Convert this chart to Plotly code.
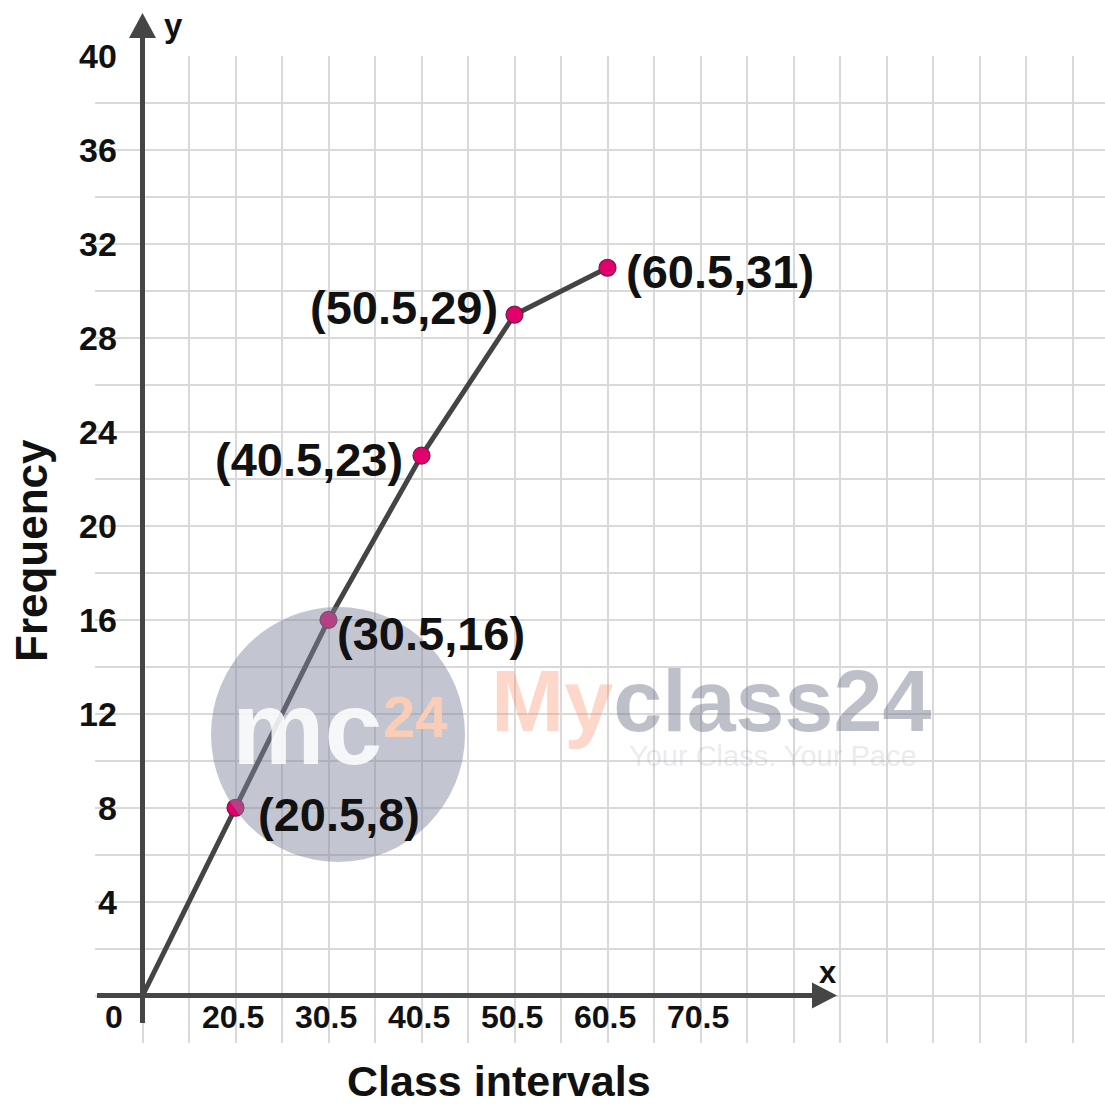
import plotly.graph_objects as go

# ---------------- data ----------------
class_marks = [20.5, 30.5, 40.5, 50.5, 60.5]
frequency = [8, 16, 23, 29, 31]
point_labels = ["(20.5,8)", "(30.5,16)", "(40.5,23)", "(50.5,29)", "(60.5,31)"]
x_tick_values = [20.5, 30.5, 40.5, 50.5, 60.5, 70.5]
x_tick_labels = ["20.5", "30.5", "40.5", "50.5", "60.5", "70.5"]
y_tick_values = [4, 8, 12, 16, 20, 24, 28, 32, 36, 40]
y_tick_labels = ["4", "8", "12", "16", "20", "24", "28", "32", "36", "40"]
origin_label = "0"
X_ORIGIN = 10.5  # axis origin (lower boundary) in class-interval units
Y_ORIGIN = 0

# ---------------- geometry / style ----------------
W, H = 1105, 1107
ML, MR, MT, MB = 95, 0, 56, 64
PW, PH = W - ML - MR, H - MT - MB
X_PX_PER_UNIT = 9.3
ORIGIN_PX = 142.5
XR = [X_ORIGIN - (ORIGIN_PX - ML) / X_PX_PER_UNIT, X_ORIGIN + (W - ORIGIN_PX) / X_PX_PER_UNIT]
YR = [-2.02, 40.02]

FONT = "Liberation Sans, Arial, Helvetica, sans-serif"
AXIS_COLOR = "#454545"
LINE_COLOR = "#444444"
MARKER_COLOR = "#e2006c"

def px_x(v):
    return ML + (v - XR[0]) / (XR[1] - XR[0]) * PW

def px_y(v):
    return H - MB - (v - YR[0]) / (YR[1] - YR[0]) * PH

def pap_x(px):
    return (px - ML) / PW

def pap_y(py):
    return (H - MB - py) / PH

fig = go.Figure()

# polygon line from origin through the class marks
fig.add_trace(go.Scatter(
    x=[X_ORIGIN] + class_marks, y=[Y_ORIGIN] + frequency,
    mode="lines", line=dict(color=LINE_COLOR, width=5),
    hoverinfo="skip", showlegend=False))
fig.add_trace(go.Scatter(
    x=class_marks, y=frequency, mode="markers",
    marker=dict(size=17, color=MARKER_COLOR, line=dict(color="#6b1f45", width=1.2)),
    showlegend=False))

shapes = []
ox, oy = px_x(X_ORIGIN), px_y(Y_ORIGIN)
# x axis with arrow
shapes.append(dict(type="line", xref="paper", yref="paper",
                   x0=pap_x(97), x1=pap_x(815), y0=pap_y(oy), y1=pap_y(oy),
                   line=dict(color=AXIS_COLOR, width=5), layer="above"))
shapes.append(dict(type="path", xref="paper", yref="paper",
                   path=f"M {pap_x(812)},{pap_y(oy-13)} L {pap_x(837)},{pap_y(oy)} L {pap_x(812)},{pap_y(oy+13)} Z",
                   fillcolor=AXIS_COLOR, line=dict(width=0), layer="above"))
# y axis with arrow
shapes.append(dict(type="line", xref="paper", yref="paper",
                   x0=pap_x(ox), x1=pap_x(ox), y0=pap_y(1023), y1=pap_y(35),
                   line=dict(color=AXIS_COLOR, width=5), layer="above"))
shapes.append(dict(type="path", xref="paper", yref="paper",
                   path=f"M {pap_x(ox-13.5)},{pap_y(38)} L {pap_x(ox)},{pap_y(13)} L {pap_x(ox+13.5)},{pap_y(38)} Z",
                   fillcolor=AXIS_COLOR, line=dict(width=0), layer="above"))
# watermark circle
shapes.append(dict(type="circle", xref="paper", yref="paper",
                   x0=pap_x(211), x1=pap_x(465), y0=pap_y(862), y1=pap_y(607),
                   fillcolor="rgba(130,136,158,0.48)", line=dict(width=0), layer="above"))

def pann(px, py, text, size, color="#111111", weight="bold", **kw):
    d = dict(xref="paper", yref="paper", x=pap_x(px), y=pap_y(py), text=text,
             showarrow=False, xanchor="center", yanchor="middle",
             font=dict(family=FONT, size=size, color=color, weight=weight))
    d.update(kw)
    return d

ann = []
# watermark text
ann.append(pann(307, 728, "mc", 104, color="rgba(255,255,255,0.85)"))
ann.append(pann(415, 716, "24", 58, color="rgba(253,205,180,0.95)"))
ann.append(pann(711, 700,
                '<span style="color:rgba(250,140,100,0.35)">My</span>'
                '<span style="color:rgba(110,115,135,0.45)">class24</span>', 88, color="#888888"))
ann.append(pann(773, 756, "Your Class. Your Pace", 29, color="rgba(150,150,165,0.2)", weight="normal"))

# point labels
label_style = [
    dict(xanchor="left", xshift=20, yshift=-7),
    dict(xanchor="left", xshift=6, yshift=-14),
    dict(xanchor="right", xshift=-17, yshift=-4),
    dict(xanchor="right", xshift=-15, yshift=7),
    dict(xanchor="left", xshift=16, yshift=-4),
]
for xv, yv, t, st in zip(class_marks, frequency, point_labels, label_style):
    ann.append(dict(xref="x", yref="y", x=xv, y=yv, text=t, showarrow=False,
                    xanchor=st["xanchor"], yanchor="middle", xshift=st["xshift"], yshift=st["yshift"],
                    font=dict(family=FONT, size=47, color="#111111", weight="bold")))

# y tick labels
for v, t in zip(y_tick_values, y_tick_labels):
    ann.append(dict(xref="paper", yref="y", x=pap_x(119), y=v, text=t, showarrow=False,
                    xanchor="right", yanchor="middle",
                    font=dict(family=FONT, size=34, color="#111111", weight="bold")))
# x tick labels
for v, t in zip(x_tick_values, x_tick_labels):
    ann.append(dict(xref="x", yref="paper", x=v, y=pap_y(1017), text=t, showarrow=False,
                    xanchor="center", yanchor="middle", xshift=-3,
                    font=dict(family=FONT, size=32, color="#111111", weight="bold")))
ann.append(pann(114, 1017, origin_label, 32))

# axis letters and titles
ann.append(pann(828, 972, "x", 31))
ann.append(pann(173, 25, "y", 33))
ann.append(pann(499, 1081, "Class intervals", 43))
ann.append(pann(31, 551, "Frequency", 44, textangle=-90))

fig.update_layout(
    width=W, height=H, autosize=False,
    margin=dict(l=ML, r=MR, t=MT, b=MB, pad=0),
    paper_bgcolor="white", plot_bgcolor="white",
    shapes=shapes, annotations=ann, showlegend=False,
    xaxis=dict(range=XR, tick0=0.5, dtick=5, showgrid=True, gridcolor="#d9d9d9", gridwidth=1.6,
               zeroline=False, showline=False, showticklabels=False, ticks="", fixedrange=True),
    yaxis=dict(range=YR, tick0=0, dtick=2, showgrid=True, gridcolor="#d9d9d9", gridwidth=1.6,
               zeroline=False, showline=False, showticklabels=False, ticks="", fixedrange=True),
)

fig.write_html("out.html", config={"displayModeBar": False},
               post_script="document.body.style.margin='0';document.body.style.padding='0';")
